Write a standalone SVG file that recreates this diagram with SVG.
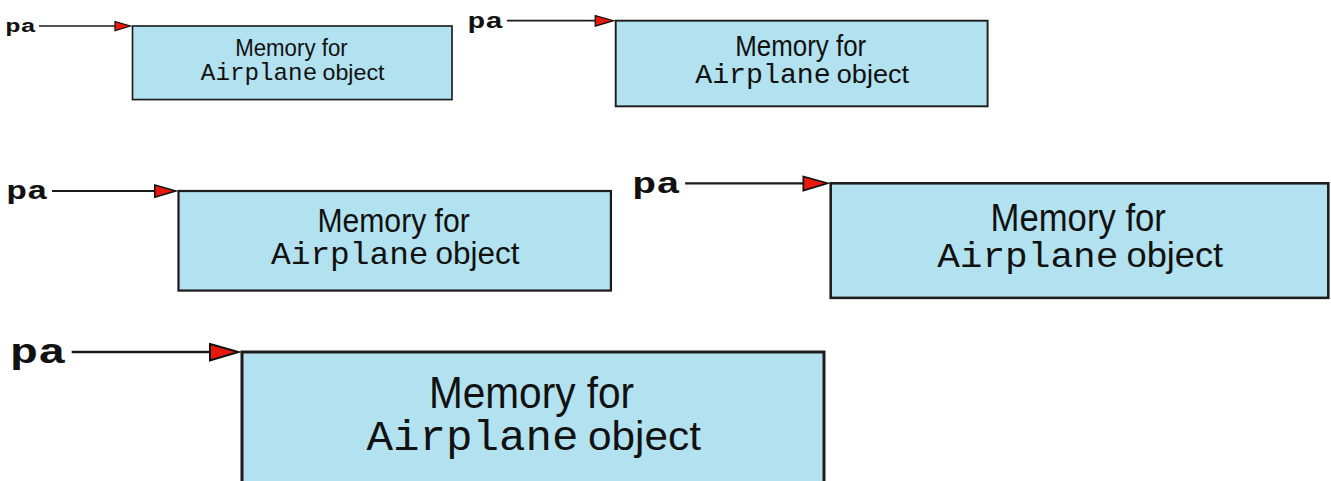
<svg xmlns="http://www.w3.org/2000/svg" width="1331" height="481" viewBox="0 0 1331 481">
  <style>
    .mem { fill: #b2e2ef; stroke: #1c1c1c; stroke-width: 3; }
    .wire { stroke: #1a1a1a; stroke-width: 2.6; fill: none; }
    .head { fill: #e8190c; stroke: #111; stroke-width: 2; stroke-linejoin: miter; }
    .ptr { font-family: "Liberation Mono", "Courier New", monospace; font-weight: bold; font-size: 35px; fill: #111; }
    .sans { font-family: "Liberation Sans", Arial, sans-serif; fill: #111; }
    .mono { font-family: "Liberation Mono", "Courier New", monospace; fill: #111; }
  </style>

  <!-- pointer arrows: pa -> start of the memory block (drawn in block-local units) -->
  <g id="connectors">
    <g transform="translate(132.5 26) scale(0.549)">
      <line class="wire" x1="-170.3" y1="0" x2="-30" y2="0"/>
      <polygon class="head" points="-32,-8 -3.5,0 -32,8.5"/>
    </g>
    <g transform="translate(615.7 20.7) scale(0.639)">
      <line class="wire" x1="-170.3" y1="0" x2="-30" y2="0"/>
      <polygon class="head" points="-32,-8 -3.5,0 -32,8.5"/>
    </g>
    <g transform="translate(178.5 191) scale(0.743)">
      <line class="wire" x1="-170.3" y1="0" x2="-30" y2="0"/>
      <polygon class="head" points="-32,-8 -3.5,0 -32,8.5"/>
    </g>
    <g transform="translate(830.7 183.3) scale(0.855)">
      <line class="wire" x1="-170.3" y1="0" x2="-30" y2="0"/>
      <polygon class="head" points="-32,-8 -3.5,0 -32,8.5"/>
    </g>
    <g transform="translate(242 352)">
      <line class="wire" x1="-170.3" y1="0" x2="-30" y2="0"/>
      <polygon class="head" points="-32,-8 -3.5,0 -32,8.5"/>
    </g>
  </g>

  <!-- size 1 -->
  <g id="pa-1" transform="translate(132.5 26) scale(0.549)">
    <text class="ptr" x="-232" y="11.3" textLength="56" lengthAdjust="spacingAndGlyphs">pa</text>
  </g>
  <g id="memory-1" transform="translate(132.5 26) scale(0.549)">
    <rect class="mem" x="0" y="0" width="582" height="134"/>
    <text class="sans" x="187" y="55.5" font-size="45" textLength="205" lengthAdjust="spacingAndGlyphs">Memory for</text>
    <text class="mono" x="124.5" y="98" font-size="42" textLength="212" lengthAdjust="spacingAndGlyphs">Airplane</text>
    <text class="sans" x="346" y="98" font-size="41" textLength="113" lengthAdjust="spacingAndGlyphs">object</text>
  </g>

  <!-- size 2 -->
  <g id="pa-2" transform="translate(615.7 20.7) scale(0.639)">
    <text class="ptr" x="-232" y="11.3" textLength="56" lengthAdjust="spacingAndGlyphs">pa</text>
  </g>
  <g id="memory-2" transform="translate(615.7 20.7) scale(0.639)">
    <rect class="mem" x="0" y="0" width="582" height="134"/>
    <text class="sans" x="187" y="55.5" font-size="45" textLength="205" lengthAdjust="spacingAndGlyphs">Memory for</text>
    <text class="mono" x="124.5" y="98" font-size="42" textLength="212" lengthAdjust="spacingAndGlyphs">Airplane</text>
    <text class="sans" x="346" y="98" font-size="41" textLength="113" lengthAdjust="spacingAndGlyphs">object</text>
  </g>

  <!-- size 3 -->
  <g id="pa-3" transform="translate(178.5 191) scale(0.743)">
    <text class="ptr" x="-232" y="11.3" textLength="56" lengthAdjust="spacingAndGlyphs">pa</text>
  </g>
  <g id="memory-3" transform="translate(178.5 191) scale(0.743)">
    <rect class="mem" x="0" y="0" width="582" height="134"/>
    <text class="sans" x="187" y="55.5" font-size="45" textLength="205" lengthAdjust="spacingAndGlyphs">Memory for</text>
    <text class="mono" x="124.5" y="98" font-size="42" textLength="212" lengthAdjust="spacingAndGlyphs">Airplane</text>
    <text class="sans" x="346" y="98" font-size="41" textLength="113" lengthAdjust="spacingAndGlyphs">object</text>
  </g>

  <!-- size 4 -->
  <g id="pa-4" transform="translate(830.7 183.3) scale(0.855)">
    <text class="ptr" x="-232" y="11.3" textLength="56" lengthAdjust="spacingAndGlyphs">pa</text>
  </g>
  <g id="memory-4" transform="translate(830.7 183.3) scale(0.855)">
    <rect class="mem" x="0" y="0" width="582" height="134"/>
    <text class="sans" x="187" y="55.5" font-size="45" textLength="205" lengthAdjust="spacingAndGlyphs">Memory for</text>
    <text class="mono" x="124.5" y="98" font-size="42" textLength="212" lengthAdjust="spacingAndGlyphs">Airplane</text>
    <text class="sans" x="346" y="98" font-size="41" textLength="113" lengthAdjust="spacingAndGlyphs">object</text>
  </g>

  <!-- size 5 -->
  <g id="pa-5" transform="translate(242 352)">
    <text class="ptr" x="-232" y="11.3" textLength="56" lengthAdjust="spacingAndGlyphs">pa</text>
  </g>
  <g id="memory-5" transform="translate(242 352)">
    <rect class="mem" x="0" y="0" width="582" height="134"/>
    <text class="sans" x="187" y="55.5" font-size="45" textLength="205" lengthAdjust="spacingAndGlyphs">Memory for</text>
    <text class="mono" x="124.5" y="98" font-size="42" textLength="212" lengthAdjust="spacingAndGlyphs">Airplane</text>
    <text class="sans" x="346" y="98" font-size="41" textLength="113" lengthAdjust="spacingAndGlyphs">object</text>
  </g>
</svg>
